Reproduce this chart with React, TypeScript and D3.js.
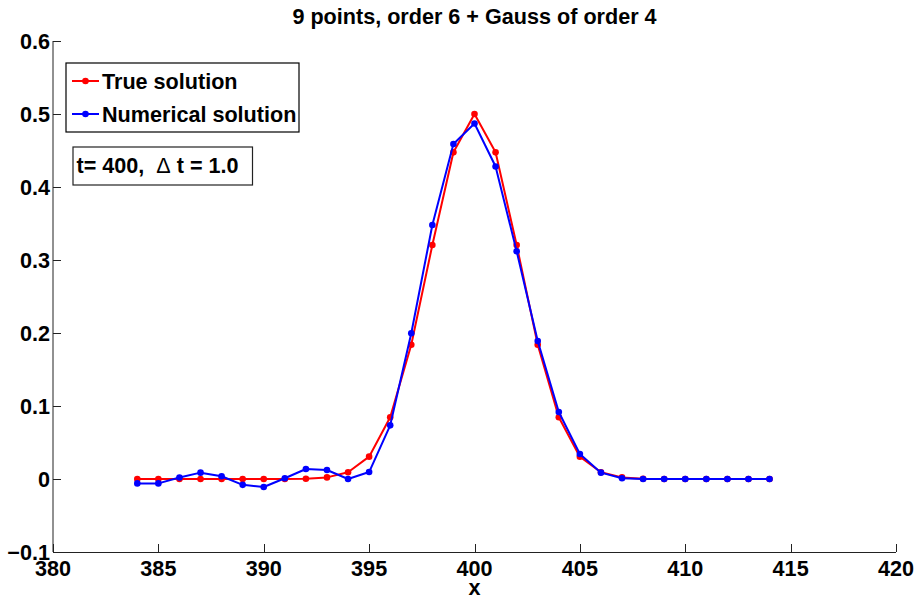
import React from "react";
import * as d3 from "d3";

const xValues = [384, 385, 386, 387, 388, 389, 390, 391, 392, 393, 394, 395, 396, 397, 398, 399, 400, 401, 402, 403, 404, 405, 406, 407, 408, 409, 410, 411, 412, 413, 414];
const trueSolution = [0, 0, 0, 0, 0, 0, 0, 0.0001, 0.0004, 0.0022, 0.0092, 0.0306, 0.0845, 0.184, 0.3205, 0.4475, 0.5, 0.4475, 0.3205, 0.184, 0.0845, 0.0306, 0.0092, 0.0022, 0.0004, 0.0001, 0, 0, 0, 0, 0];
const numericalSolution = [-0.006, -0.006, 0.002, 0.0087, 0.0037, -0.008, -0.011, 0.001, 0.0137, 0.0123, 0.0, 0.0095, 0.0735, 0.1996, 0.348, 0.459, 0.487, 0.428, 0.312, 0.189, 0.0918, 0.0342, 0.0087, 0.001, 0, 0, 0, 0, 0, 0, 0];
const xTicks = [380, 385, 390, 395, 400, 405, 410, 415, 420];
const yTicks = [-0.1, 0, 0.1, 0.2, 0.3, 0.4, 0.5, 0.6];
const seriesNames = ["True solution", "Numerical solution"];
const seriesColors = ["#ff0000", "#0000ff"];
const titleText = "9 points, order 6 + Gauss of order 4";
const xLabel = "x";

const W = 917;
const H = 597;
const FONT = "'Liberation Sans', Arial, Helvetica, sans-serif";
const FS = 21.6;

export default function App() {
  const x = d3.scaleLinear().domain([380, 420]).range([53, 896]);
  const y = d3.scaleLinear().domain([-0.1, 0.6]).range([552, 41]);
  const line = d3
    .line<[number, number]>()
    .x((d) => x(d[0]))
    .y((d) => y(d[1]));
  const series = [trueSolution, numericalSolution].map((vals) =>
    xValues.map((xv, i) => [xv, vals[i]] as [number, number])
  );
  const fmtY = (v: number) => (v === 0 ? "0" : v < 0 ? "\u2212" + Math.abs(v).toFixed(1) : v.toFixed(1));

  return (
    <svg
      width={W}
      height={H}
      style={{ position: "absolute", left: 0, top: 0, background: "#fff" }}
      fontFamily={FONT}
      fontWeight="bold"
    >
      <rect x={0} y={0} width={W} height={H} fill="#fff" />
      {/* axes */}
      <line x1={53} x2={53} y1={y(0.6)} y2={y(-0.1)} stroke="#222" strokeWidth={1} />
      <line x1={53} x2={896} y1={552.5} y2={552.5} stroke="#222" strokeWidth={1} />
      {yTicks.map((t) => (
        <g key={"y" + t}>
          <line x1={53} x2={61} y1={Math.round(y(t)) + 0.5} y2={Math.round(y(t)) + 0.5} stroke="#222" />
          <text x={50} y={y(t) + 7.5} textAnchor="end" fontSize={FS} fill="#000">
            {fmtY(t)}
          </text>
        </g>
      ))}
      {xTicks.map((t) => (
        <g key={"x" + t}>
          <line x1={Math.round(x(t)) + 0.5} x2={Math.round(x(t)) + 0.5} y1={552} y2={544} stroke="#222" />
          <text x={x(t)} y={576} textAnchor="middle" fontSize={FS} fill="#000">
            {t}
          </text>
        </g>
      ))}
      {/* title and label */}
      <text x={474.5} y={24} textAnchor="middle" fontSize={FS} fill="#000">
        {titleText}
      </text>
      <text x={474.5} y={594.5} textAnchor="middle" fontSize={FS} fill="#000">
        {xLabel}
      </text>
      {/* data */}
      {series.map((pts, si) => (
        <g key={"s" + si}>
          <path d={line(pts) || ""} fill="none" stroke={seriesColors[si]} strokeWidth={2} strokeLinejoin="round" />
          {pts.map((p, i) => (
            <circle key={i} cx={x(p[0])} cy={y(p[1])} r={3.3} fill={seriesColors[si]} />
          ))}
        </g>
      ))}
      {/* legend */}
      <rect x={66} y={63} width={233} height={69} fill="#fff" stroke="#000" strokeWidth={1.2} />
      {seriesNames.map((name, i) => {
        const ry = 81 + i * 33;
        return (
          <g key={"l" + i}>
            <line x1={72} x2={99} y1={ry} y2={ry} stroke={seriesColors[i]} strokeWidth={2} />
            <circle cx={85.5} cy={ry} r={3.3} fill={seriesColors[i]} />
            <text x={102} y={ry + 7.5} fontSize={FS} fill="#000">
              {name}
            </text>
          </g>
        );
      })}
      {/* annotation */}
      <rect x={73} y={147} width={179.5} height={38} fill="#fff" stroke="#222" strokeWidth={1.2} />
      <text x={76.5} y={172.5} fontSize={FS} fill="#000" xmlSpace="preserve">
        {"t= 400,  "}
        <tspan fontWeight="normal">{"\u0394"}</tspan>
        {" t = 1.0"}
      </text>
    </svg>
  );
}
